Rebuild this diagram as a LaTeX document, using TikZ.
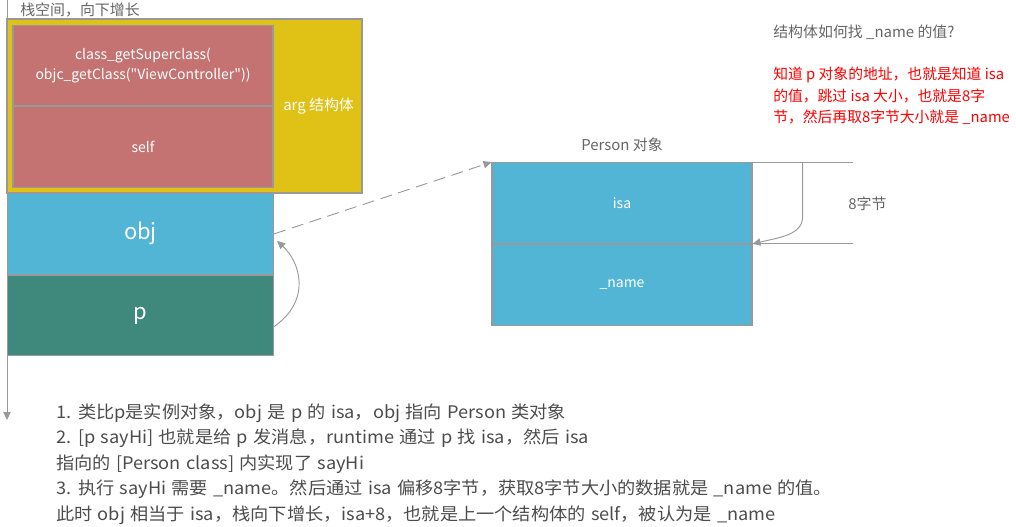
\documentclass[tikz,border=0pt]{standalone}
\usepackage{fontspec}
\setmainfont{Noto Sans CJK SC}
\newfontfamily\plainfont{Noto Sans CJK SC}
\newfontfamily\stepsfont{Noto Sans CJK SC}[WordSpace=1.3, FakeStretch=1.05]
\usepackage{xcolor}
\usetikzlibrary{arrows.meta, positioning, calc}

\definecolor{argyellow}{HTML}{E0C116}
\definecolor{selfred}{HTML}{C47272}
\definecolor{objblue}{HTML}{52B5D5}
\definecolor{pgreen}{HTML}{3E897C}
\definecolor{linegray}{HTML}{999999}
\definecolor{labelgray}{HTML}{666666}

\tikzset{
    cell/.style={draw=linegray, line width=0.8pt, text=white, inner sep=0pt, align=center,
        minimum width=195pt, minimum height=60.5pt, font=\plainfont\fontsize{10.5}{15}\selectfont},
    bigcell/.style={cell, minimum width=199.5pt, font=\fontsize{16.5}{20}\selectfont},
    note/.style={anchor=west, inner sep=0pt, text=labelgray, font=\fontsize{11.2}{16}\selectfont},
    arr/.style={draw=linegray, line width=0.7pt, -{Triangle[length=6pt,width=5.5pt]}}
}

\begin{document}
\begin{tikzpicture}[x=0.75pt, y=-0.75pt]
        \useasboundingbox (0,0) rectangle (1016,526);

        % Stack axis
        \coordinate (stacktop) at (7,0);
        \coordinate (stackbot) at (7,420);
        \draw[arr] (stacktop) -- (stackbot);
        \node[note, anchor=west] (stacklbl) at (20,10) {栈空间，向下增长};

        % arg struct
        \node[draw=linegray, line width=0.8pt, fill=argyellow, minimum width=266.25pt, minimum height=130.5pt] (arg) at (184.5,106) {};
        \node[cell, fill=selfred] (super) at (143,65.5) {class\_getSuperclass(\\objc\_getClass("ViewController"))};
        \node[cell, fill=selfred, below=0pt of super] (self) {self};
        \node[note, text=white] (arglbl) at (283,106) {arg 结构体};

        % obj and p
        \node[bigcell, fill=objblue, anchor=north west] (obj) at (7,193) {obj};
        \node[bigcell, fill=pgreen, below=0pt of obj] (p) {p};
        \draw[arr] ($(p.east)+(0,11)$) .. controls (312,300) and (300,262) .. ($(obj.east)+(3,7)$);

        % Person object
        \node[cell, fill=objblue] (isa) at (622,203) {isa};
        \node[cell, fill=objblue, below=0pt of isa] (name) {\_name};
        \node[note, anchor=center] (personlbl) at (622,145) {Person 对象};
        \draw[arr, dashed, dash pattern=on 9pt off 5pt] (obj.east) -- (isa.north west);

        % 8 bytes offset
        \coordinate (topend) at ($(isa.north east)+(100,0)$);
        \coordinate (botend) at ($(isa.south east)+(100,0)$);
        \coordinate (offtop) at ($(isa.north east)+(50,0)$);
        \coordinate (offmid) at ($(isa.north east)+(50,55)$);
        \draw[draw=linegray, line width=0.7pt] (isa.north east) -- (topend);
        \draw[draw=linegray, line width=0.7pt] (isa.south east) -- (botend);
        \draw[arr] (offtop) -- (offmid) .. controls ($(offmid)+(0,18)$) and ($(isa.south east)+(25,-6)$) .. (isa.south east);
        \node[note] (bytes) at (848,204) {8字节};

        % Explanation
        \node[note] (question) at (773,32) {结构体如何找 \_name 的值?};
        \node[note, text=red, align=left, font=\fontsize{11.1}{16.1}\selectfont] (answer) at (773,96)
            {知道 p 对象的地址，也就是知道 isa\\的值，跳过 isa 大小，也就是8字\\节，然后再取8字节大小就是 \_name};

        \node[note, text=black!70, align=left, font=\stepsfont\fontsize{13}{19.2}\selectfont] (steps) at (56,464)
            {1. 类比p是实例对象，obj 是 p 的 isa，obj 指向 Person 类对象\\
             2. [p sayHi] 也就是给 p 发消息，runtime 通过 p 找 isa，然后 isa\\
             指向的 [Person class] 内实现了 sayHi\\
             3. 执行 sayHi 需要 \_name。然后通过 isa 偏移8字节，获取8字节大小的数据就是 \_name 的值。\\
             此时 obj 相当于 isa，栈向下增长，isa+8，也就是上一个结构体的 self，被认为是 \_name};
\end{tikzpicture}
\end{document}
